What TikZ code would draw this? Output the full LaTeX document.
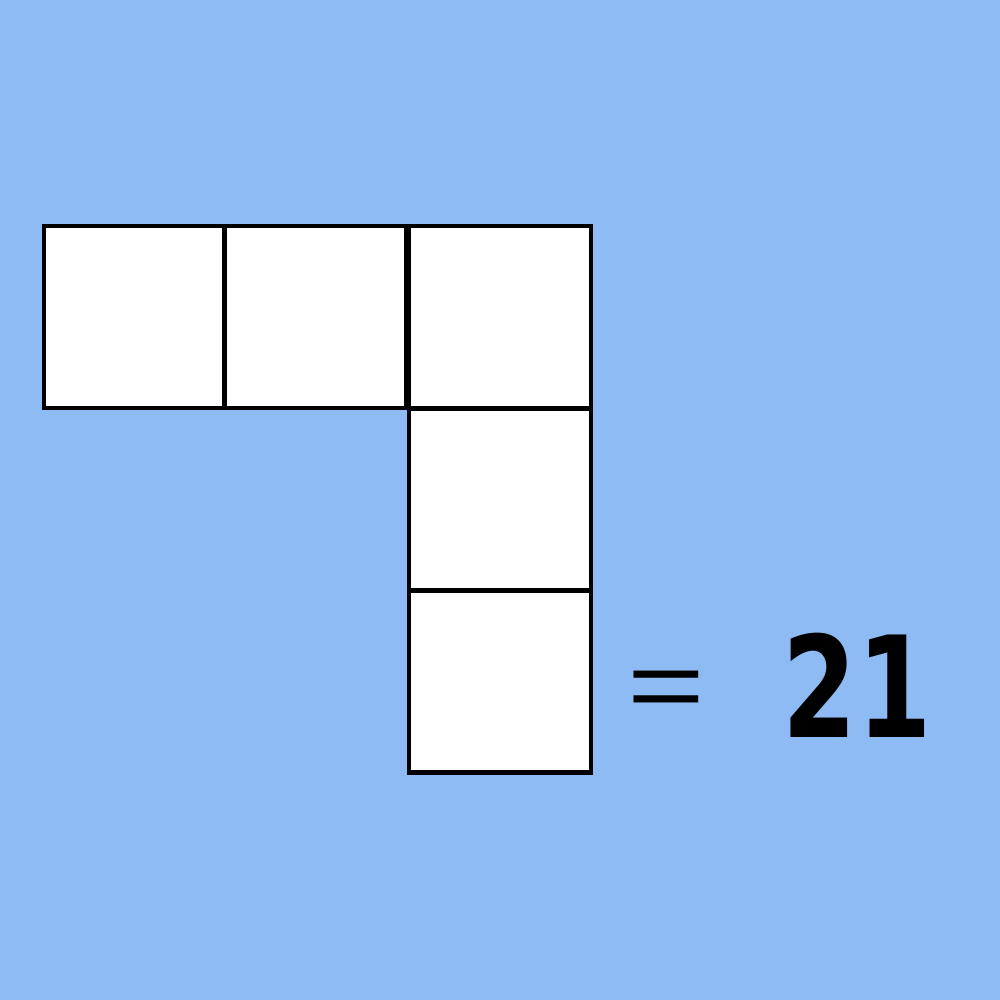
\documentclass[tikz,border=0pt]{standalone}
\usepackage{fontspec}
\newfontfamily\dejavu{DejaVu Sans}
\newfontfamily\libsans{Liberation Sans}
\definecolor{bg}{RGB}{142,187,244}
\begin{document}
\begin{tikzpicture}[x=0.01cm,y=-0.01cm,
  cell/.style={draw=black, fill=white, line width=1.28pt, minimum width=1.815cm, minimum height=1.815cm, inner sep=0pt, outer sep=0pt},
  txt/.style={anchor=base, inner sep=0pt, outer sep=0pt, text=black}]
\fill[bg] (0,0) rectangle (1000,1000);
\useasboundingbox (0,0) rectangle (1000,1000);
\node[cell] (b1) at (135,317) {};
\node[cell] (b2) at (315.5,317) {};
\node[cell] (b3) at (500,317) {};
\node[cell] (b4) at (500,499.5) {};
\node[cell] (b5) at (500,681.8) {};
\node[txt] (eq) at (666.5,719) {\scalebox{0.93}[0.69]{\fontsize{40.7pt}{41pt}\libsans =}};
\node[txt] (num) at (857,737.7) {\scalebox{0.76}[1]{\fontsize{40pt}{40pt}\dejavu\bfseries 21}};
\end{tikzpicture}
\end{document}
